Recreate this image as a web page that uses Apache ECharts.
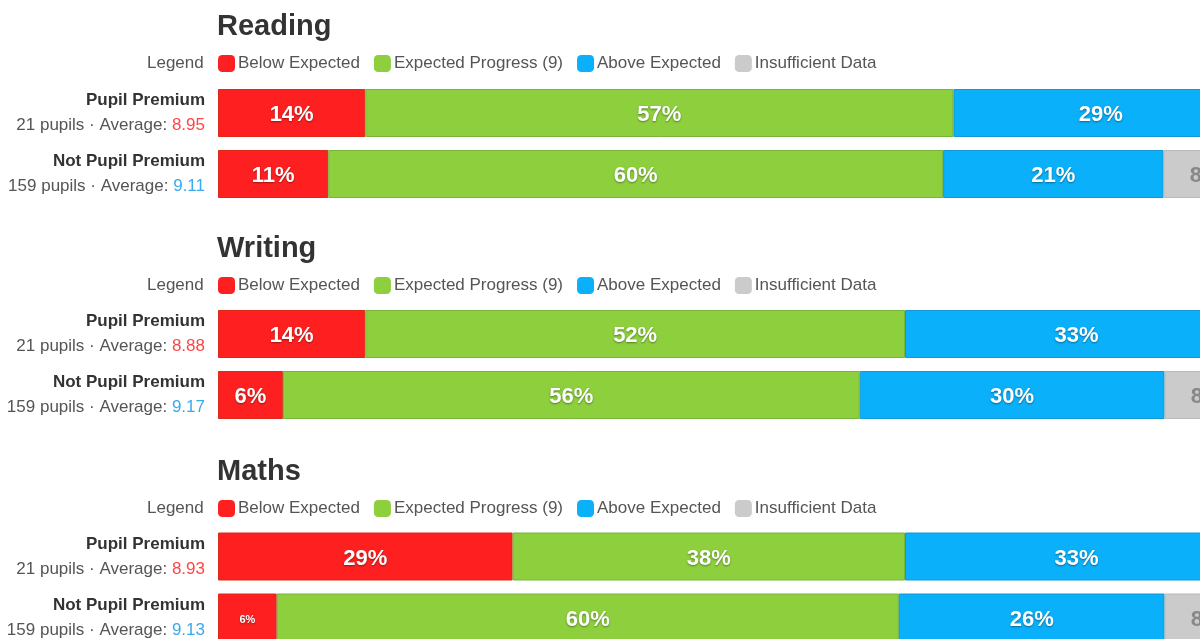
<!DOCTYPE html>
<html>
<head>
<meta charset="utf-8">
<script src="https://cdn.jsdelivr.net/npm/echarts@6/dist/echarts.min.js"></script>
<style>
  html, body { margin: 0; padding: 0; background: #fff; }
  #main { width: 1200px; height: 639px; }
</style>
</head>
<body>
<div id="main"></div>
<script>
// groups and subjects
var groups = ['Pupil Premium', 'Not Pupil Premium'];
var pupils = [21, 159];
var subjects = ['Reading', 'Writing', 'Maths'];
var bands = ['Below Expected', 'Expected Progress (9)', 'Above Expected', 'Insufficient Data'];

// averages per subject: [Pupil Premium, Not Pupil Premium]
var readingAvg = [8.95, 9.11];
var writingAvg = [8.88, 9.17];
var mathsAvg = [8.93, 9.13];

// percent of pupils per band, each pair is [Pupil Premium, Not Pupil Premium]
var reading = [[14.3, 10.7], [57.1, 59.7], [28.6, 21.4], [0, 8.2]];
var writing = [[14.3, 6.3], [52.4, 56.0], [33.3, 29.6], [0, 8.2]];
var maths = [[28.6, 5.7], [38.1, 60.4], [33.3, 25.8], [0, 8.2]];

var allData = [reading, writing, maths];
var allAvg = [readingAvg, writingAvg, mathsAvg];

var colors = ['#fe2020', '#8dcf3d', '#0ab0f9', '#cbcbcb'];
var borders = ['#d92a1a', '#77b43a', '#1398d4', '#b9b9b9'];
var gridTops = [82.5, 303.5, 526];
var titleTops = [12, 234, 457];
var legendTops = [55, 277, 500];

var myChart = echarts.init(document.getElementById('main'));

var grids = [], xAxes = [], yAxes = [], series = [], titles = [], legends = [], graphics = [];

subjects.forEach(function (sub, i) {
  var avg = allAvg[i];
  grids.push({ left: 218, width: 1030, top: gridTops[i], height: 122, outerBoundsMode: 'none', containLabel: false });
  xAxes.push({
    gridIndex: i, type: 'value', min: 0, max: 100,
    show: false
  });
  yAxes.push({
    gridIndex: i, type: 'category', data: groups, inverse: true,
    axisLine: { show: false }, axisTick: { show: false }, splitLine: { show: false },
    axisLabel: {
      margin: 13,
      align: 'right',
      formatter: function (val, idx) {
        var a = avg[idx];
        var tag = a < 9 ? 'lo' : 'hi';
        return '{b|' + val + '}\n{n|' + pupils[idx] + ' pupils · Average: }{' + tag + '|' + a.toFixed(2) + '}';
      },
      rich: {
        b: { fontFamily: 'Liberation Sans', fontSize: 17, fontWeight: 'bold', color: '#333', lineHeight: 25, align: 'right' },
        n: { fontFamily: 'Liberation Sans', fontSize: 17, color: '#555', lineHeight: 25 },
        lo: { fontFamily: 'Liberation Sans', fontSize: 17, color: '#ff4646', lineHeight: 25 },
        hi: { fontFamily: 'Liberation Sans', fontSize: 17, color: '#3aa9ee', lineHeight: 25 }
      }
    }
  });
  titles.push({
    text: sub, left: 217, top: titleTops[i], padding: 0,
    textStyle: { fontFamily: 'Liberation Sans', fontSize: 29, fontWeight: 'bold', color: '#333' }
  });
  legends.push({
    data: bands, left: 218, top: legendTops[i], padding: 0,
    icon: 'roundRect', itemWidth: 17, itemHeight: 17, itemGap: 14,
    selectedMode: false,
    itemStyle: { borderWidth: 0 },
    textStyle: { fontFamily: 'Liberation Sans', fontSize: 17, color: '#555', padding: [0, 0, 0, -2] }
  });
  graphics.push({
    type: 'text', left: 147, top: legendTops[i],
    style: { text: 'Legend', font: '17px "Liberation Sans"', fill: '#555' }
  });
  bands.forEach(function (b, k) {
    var gray = k === 3;
    series.push({
      name: b, type: 'bar', stack: 'sub' + i,
      xAxisIndex: i, yAxisIndex: i,
      barWidth: 48,
      itemStyle: { color: colors[k], borderColor: borders[k], borderWidth: 1 },
      label: {
        show: true, position: 'inside', offset: [0, 2],
        fontFamily: 'Liberation Sans', fontWeight: 'bold',
        color: gray ? '#888' : '#fff',
        textShadowColor: gray ? 'transparent' : 'rgba(0,0,0,0.4)',
        textShadowBlur: 2, textShadowOffsetY: 1,
        formatter: function (p) { return p.value > 0 ? Math.round(p.value) + '%' : ''; }
      },
      data: allData[i][k].map(function (v) {
        return { value: v, label: { fontSize: v < 6 ? 11 : 22 } };
      })
    });
  });
});

myChart.setOption({
  animation: false,
  title: titles,
  legend: legends,
  grid: grids,
  xAxis: xAxes,
  yAxis: yAxes,
  graphic: graphics,
  series: series
});
</script>
</body>
</html>
